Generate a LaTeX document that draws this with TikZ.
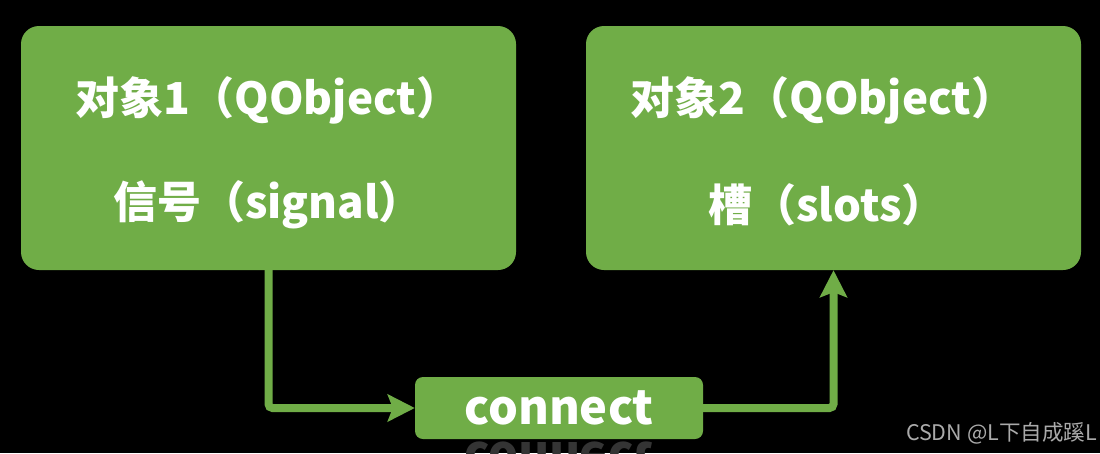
\documentclass[tikz,border=0pt]{standalone}
\usepackage{fontspec}
\newfontfamily\cjk{Noto Sans CJK SC}
\usetikzlibrary{arrows.meta}
\definecolor{qgreen}{RGB}{112,173,71}
\definecolor{reflgray}{RGB}{52,52,52}
\definecolor{wmgray}{RGB}{170,170,170}
\begin{document}
\begin{tikzpicture}[x=1pt,y=-1pt,
  objbox/.style={fill=qgreen, rounded corners=18pt, minimum width=495pt, minimum height=244pt, inner sep=0pt},
  connbox/.style={fill=qgreen, rounded corners=8pt, minimum width=288pt, minimum height=62pt, inner sep=0pt},
  bigtext/.style={text=white, font=\cjk\bfseries\fontsize{44}{50}\selectfont, inner sep=0pt},
  conntext/.style={text=white, font=\cjk\bfseries\fontsize{47}{54}\selectfont, inner sep=0pt},
  link/.style={draw=qgreen, line width=8pt, rounded corners=4pt, -{Stealth[length=27pt,width=27pt,inset=5pt]}}
]
\fill[black] (0,0) rectangle (1100,453);
\useasboundingbox (0,0) rectangle (1100,453);
\clip (0,0) rectangle (1100,453);

% reflection of "connect"
\begin{scope}[shift={(559,442)}, yscale=-1]
  \node[transform shape, anchor=base, inner sep=0pt, text=reflgray, font=\cjk\bfseries\fontsize{47}{54}\selectfont] (refl) at (0,0) {connect};
\end{scope}

\node[objbox] (box1) at (268.5,148) {};
\node[objbox] (box2) at (833.5,148) {};
\node[connbox] (conn) at (559,408) {};

\node[bigtext] (t1a) at (268,100) {对象1（QObject）};
\node[bigtext] (t1b) at (268,205) {信号（signal）};
\node[bigtext] (t2a) at (823,100) {对象2（QObject）};
\node[bigtext] (t2b) at (827,205) {槽（slots）};
\node[conntext] (tc) at (559,408) {connect};

\draw[link] (box1.south) |- (conn.west);
\draw[link] (conn.east) -| (box2.south);

\node[anchor=east, inner sep=0pt, text=wmgray, font=\cjk\fontsize{21.5}{24}\selectfont] (wm) at (1097,433) {CSDN @L下自成蹊L};
\end{tikzpicture}
\end{document}
